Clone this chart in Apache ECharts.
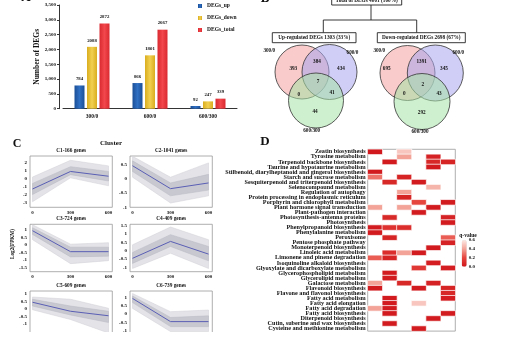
<!DOCTYPE html>
<html><head><meta charset="utf-8">
<script src="https://cdn.jsdelivr.net/npm/echarts@6/dist/echarts.min.js"></script>
<style>html,body{margin:0;padding:0;background:#fff}#c{width:512px;height:339px}</style>
</head><body><div id="c"></div>
<script>
// ---------- Panel A data ----------
const degCategories = ['300/0', '600/0', '600/300'];
const degUp = [784, 866, 92];
const degDown = [2088, 1801, 247];
const degTotal = [2872, 2667, 339];
const degSeriesNames = ['DEGs_up', 'DEGs_down', 'DEGs_total'];

// ---------- Panel B data ----------
const totalLabel = 'Total of DEGs 4001 (100%)';
const upLabel = 'Up-regulated DEGs 1303 (33%)';
const downLabel = 'Down-regulated DEGs 2698 (67%)';
const vennSetNames = ['300/0', '600/0', '600/300'];
// order: 300/0 only, 300/0∩600/0, 600/0 only, all three, 300/0∩600/300, 600/0∩600/300, 600/300 only
const vennUpCounts = [393, 384, 434, 7, 0, 41, 44];
const vennDownCounts = [695, 1391, 345, 2, 0, 43, 292];

// ---------- Panel C data ----------
const timePoints = [0, 300, 600];
const timeTickLabels = [0, 300, 600];
const clusterNames = ['C1-166 genes', 'C2-1041 genes', 'C3-724 genes', 'C4-409 genes', 'C5-609 genes', 'C6-739 genes'];
const clusterMean = [[-1.3, 0.9, 0.3], [0.45, -0.35, -0.15], [0.95, -0.45, -0.45], [-0.45, 0.55, -0.2], [0.45, -0.15, -0.45], [0.95, -0.45, -0.45]];
const clusterOuterLow = [[-2.9, 0.1, -0.9], [0.05, -0.85, -0.6], [0.35, -1.25, -1.05], [-1.05, -0.15, -1.05], [-0.05, -0.7, -1.6], [0.35, -1.05, -1.05]];
const clusterOuterHigh = [[0.2, 2.3, 1.6], [0.78, 0.05, 0.55], [1.35, 0.05, 0.15], [0.35, 1.4, 0.65], [0.8, 0.65, 0.05], [1.25, 0.15, 0.25]];
const clusterInnerLow = [[-2.0, 0.5, -0.3], [0.25, -0.6, -0.4], [0.7, -0.8, -0.75], [-0.75, 0.25, -0.6], [0.2, -0.4, -0.9], [0.7, -0.75, -0.75]];
const clusterInnerHigh = [[-0.6, 1.5, 0.9], [0.62, -0.15, 0.15], [1.15, -0.15, -0.15], [-0.1, 0.95, 0.25], [0.65, 0.2, -0.15], [1.1, -0.2, -0.1]];
const clusterYTicks = [[-3, -2, -1, 0, 1, 2], [-1, -0.5, 0, 0.5], [-1.5, -1, -0.5, 0, 0.5, 1], [-1, -0.5, 0, 0.5, 1, 1.5], [-1, -0.5, 0, 0.5, 1], [-1, -0.5, 0, 0.5, 1]];
const clusterYRange = [[-3.6, 2.84], [-1, 0.79], [-1.79, 1.38], [-1.24, 1.56], [-2, 1.2], [-1.5, 1.4]];

// ---------- Panel D data ----------
const pathways = [
  'Zeatin biosynthesis', 'Tyrosine metabolism', 'Terpenoid backbone biosynthesis', 'Taurine and hypotaurine metabolism',
  'Stilbenoid, diarylheptanoid and gingerol biosynthesis', 'Starch and sucrose metabolism', 'Sesquiterpenoid and triterpenoid biosynthesis',
  'Selenocompound metabolism', 'Regulation of autophagy', 'Protein processing in endoplasmic reticulum', 'Porphyrin and chlorophyll metabolism',
  'Plant hormone signal transduction', 'Plant-pathogen interaction', 'Photosynthesis-antenna proteins', 'Photosynthesis',
  'Phenylpropanoid biosynthesis', 'Phenylalanine metabolism', 'Peroxisome', 'Pentose phosphate pathway', 'Monoterpenoid biosynthesis',
  'Linoleic acid metabolism', 'Limonene and pinene degradation', 'Isoquinoline alkaloid biosynthesis', 'Glyoxylate and dicarboxylate metabolism',
  'Glycerophospholipid metabolism', 'Glycerolipid metabolism', 'Galactose metabolism', 'Flavonoid biosynthesis', 'Flavone and flavonol biosynthesis',
  'Fatty acid metabolism', 'Fatty acid elongation', 'Fatty acid degradation', 'Fatty acid biosynthesis', 'Diterpenoid biosynthesis',
  'Cutin, suberine and wax biosynthesis', 'Cysteine and methionine metabolism'
];
const heatColumns = ['c1', 'c2', 'c3', 'c4', 'c5', 'c6'];
// [column, row, q-value]
const heatCells = [
  [0,0,0.01],[2,0,0.5],
  [2,1,0.4],[4,1,0.05],
  [1,2,0.02],[4,2,0.08],[5,2,0.06],
  [4,3,0.02],
  [0,4,0.02],
  [0,5,0.3],[2,5,0.06],
  [1,6,0.08],[3,6,0.02],
  [4,7,0.45],
  [2,8,0.4],
  [2,9,0.06],
  [3,10,0.2],[5,10,0.02],
  [0,11,0.4],[2,11,0.4],[4,11,0.02],
  [3,12,0.02],
  [1,13,0.08],[5,13,0.05],
  [5,14,0.02],
  [0,15,0.02],[1,15,0.12],[2,15,0.1],
  [0,16,0.02],
  [1,17,0.06],[5,17,0.25],
  [5,18,0.05],
  [4,19,0.02],
  [1,20,0.1],[2,20,0.4],[3,20,0.02],
  [0,21,0.25],[1,21,0.06],
  [4,22,0.03],
  [3,23,0.15],[5,23,0.03],
  [1,24,0.02],
  [1,25,0.02],
  [0,26,0.4],[2,26,0.08],[4,26,0.05],
  [0,27,0.02],[3,27,0.02],[5,27,0.06],
  [5,28,0.08],
  [1,29,0.02],[5,29,0.03],
  [1,30,0.02],[3,30,0.5],
  [0,31,0.4],[1,31,0.02],
  [1,32,0.02],[5,32,0.02],
  [4,33,0.02],
  [1,34,0.02],
  [3,35,0.02]
];
const qTicks = [0, 0.2, 0.4, 0.6];

// ---------- build ----------
const chart = echarts.init(document.getElementById('c'), null, {renderer: 'canvas', width: 512, height: 339});
const F = '"Liberation Serif", "Times New Roman", serif';
const txt = (s, extra) => Object.assign({fontFamily: F, fontWeight: 'bold', fontSize: s, color: '#111'}, extra || {});

const grid = [], xAxis = [], yAxis = [], series = [], title = [], graphic = [];

// Panel A
grid.push({left: 63, top: 5, width: 174, height: 103.7});
xAxis.push({type: 'category', gridIndex: 0, data: degCategories,
  axisLine: {lineStyle: {color: '#000', width: 0.8}}, axisTick: {length: 2, lineStyle: {color: '#000', width: 0.8}},
  axisLabel: txt(5.5, {margin: 5})});
yAxis.push({type: 'value', gridIndex: 0, min: 0, max: 3500, interval: 500, offset: 4,
  axisLine: {show: true, lineStyle: {color: '#000', width: 0.8}}, axisTick: {show: true, length: 2, lineStyle: {color: '#000', width: 0.8}},
  splitLine: {show: false}, axisLabel: txt(5, {margin: 3}),
  name: 'Number of DEGs', nameLocation: 'middle', nameGap: 18, nameTextStyle: txt(7.5)});
const barColors = [
  new echarts.graphic.LinearGradient(0, 0, 1, 0, [{offset: 0, color: '#1b4f96'}, {offset: 0.5, color: '#2f6fc4'}, {offset: 1, color: '#1b4f96'}]),
  new echarts.graphic.LinearGradient(0, 0, 1, 0, [{offset: 0, color: '#d9ad1f'}, {offset: 0.5, color: '#f2d04f'}, {offset: 1, color: '#d9ad1f'}]),
  new echarts.graphic.LinearGradient(0, 0, 1, 0, [{offset: 0, color: '#d92a30'}, {offset: 0.5, color: '#f2474c'}, {offset: 1, color: '#d92a30'}])
];
const legendColors = ['#2560b0', '#e6c33a', '#e8383e'];
[degUp, degDown, degTotal].forEach((d, i) => {
  series.push({type: 'bar', name: degSeriesNames[i], xAxisIndex: 0, yAxisIndex: 0, data: d, barWidth: 10, barGap: '25%',
    color: legendColors[i], itemStyle: {color: barColors[i]},
    label: {show: true, position: 'top', distance: 4, ...txt(4.8)}});
});

// Panel C
const cBoxes = [[30, 156, 82.3, 51.3], [130, 156, 82.3, 51.3], [30, 224.3, 82.3, 47.4], [130, 224.3, 82.3, 47.4], [30, 291, 82.3, 48.6], [130, 291, 82.3, 48.2]];
function bandSeries(gi, lowArr, highArr, fill, stroke) {
  return {type: 'custom', xAxisIndex: gi, yAxisIndex: gi, silent: true, clip: true, data: [[timePoints[0], lowArr[0]]],
    renderItem: (params, api) => {
      const up = highArr.map((v, k) => api.coord([timePoints[k], v]));
      const lo = lowArr.map((v, k) => api.coord([timePoints[k], v])).reverse();
      return {type: 'polygon', shape: {points: up.concat(lo)}, style: {fill: fill, stroke: stroke, lineWidth: 0.5}};
    }};
}
clusterNames.forEach((nm, i) => {
  const gi = grid.length;
  const b = cBoxes[i];
  grid.push({left: b[0], top: b[1], width: b[2], height: b[3], show: true, borderColor: '#9a9a9a', borderWidth: 0.8, backgroundColor: '#fff'});
  xAxis.push({type: 'value', gridIndex: gi, min: -20, max: 630,
    axisLine: {show: false}, axisTick: {show: false}, splitLine: {show: false},
    axisLabel: txt(5, {margin: 3, customValues: timeTickLabels, show: i < 4})});
  yAxis.push({type: 'value', gridIndex: gi, min: clusterYRange[i][0], max: clusterYRange[i][1],
    axisLine: {show: false}, axisTick: {show: false}, splitLine: {show: false},
    axisLabel: txt(5, {margin: 3, customValues: clusterYTicks[i]})});
  series.push(bandSeries(gi, clusterOuterLow[i], clusterOuterHigh[i], '#e3e3e8', '#d0d0d7'));
  series.push(bandSeries(gi, clusterInnerLow[i], clusterInnerHigh[i], '#c8c8d1', '#b8b8c3'));
  series.push({type: 'line', xAxisIndex: gi, yAxisIndex: gi, symbol: 'none', silent: true,
    lineStyle: {color: '#5a5fb4', width: 1}, data: clusterMean[i].map((v, k) => [timePoints[k], v]), z: 5});
  title.push({text: nm, left: b[0] + b[2] / 2, top: b[1] - 8, textAlign: 'center', padding: 0,
    textStyle: txt(5.3)});
});

// Panel D heatmap
const hgi = grid.length;
grid.push({left: 367.7, top: 149.3, width: 87.6, height: 181.8, show: true, borderColor: '#9a9a9a', borderWidth: 0.8});
xAxis.push({type: 'category', gridIndex: hgi, data: heatColumns, axisLabel: {show: false}, axisTick: {show: false}, axisLine: {show: false}, splitLine: {show: false}});
yAxis.push({type: 'category', gridIndex: hgi, data: pathways, inverse: true, axisTick: {show: false}, axisLine: {show: false},
  axisLabel: txt(6.2, {margin: 2, interval: 0})});
const heatSeriesIndex = series.length;
series.push({type: 'heatmap', xAxisIndex: hgi, yAxisIndex: hgi, data: heatCells,
  itemStyle: {borderColor: '#fff', borderWidth: 0.7}});

// q-value legend axis
const lgi = grid.length;
grid.push({left: 461.7, top: 240, width: 5, height: 26.7});
xAxis.push({type: 'value', gridIndex: lgi, show: false});
yAxis.push({type: 'value', gridIndex: lgi, position: 'right', min: 0, max: 0.6, axisLine: {show: false}, axisTick: {show: false}, splitLine: {show: false},
  axisLabel: txt(5, {margin: 2, customValues: qTicks, formatter: v => v.toFixed(1)})});
series.push({type: 'line', xAxisIndex: lgi, yAxisIndex: lgi, data: [], silent: true});

// Panel B graphics
const gtext = (x, y, t, s, extra) => ({type: 'text', x: x, y: y, style: Object.assign({text: t, fontFamily: F, fontWeight: 'bold', fontSize: s, fill: '#111', align: 'center', verticalAlign: 'middle'}, extra || {})});
const gline = (x1, y1, x2, y2) => ({type: 'line', shape: {x1, y1, x2, y2}, style: {stroke: '#222', lineWidth: 0.9}});
graphic.push({type: 'rect', shape: {x: 331.7, y: -6, width: 70, height: 11}, style: {fill: '#fff', stroke: '#222', lineWidth: 0.9}});
graphic.push(gtext(366.7, 0.5, totalLabel, 5.3));
graphic.push(gline(371, 5, 371, 20));
graphic.push(gline(323.3, 20, 416.7, 20));
graphic.push(gline(323.3, 20, 323.3, 32.7));
graphic.push(gline(416.7, 20, 416.7, 32.7));
graphic.push({type: 'rect', shape: {x: 272.3, y: 32.7, width: 83.7, height: 10}, style: {fill: '#fff', stroke: '#222', lineWidth: 0.9}});
graphic.push(gtext(314.2, 37.9, upLabel, 5.3));
graphic.push({type: 'rect', shape: {x: 377.3, y: 32.7, width: 88, height: 10}, style: {fill: '#fff', stroke: '#222', lineWidth: 0.9}});
graphic.push(gtext(421.3, 37.9, downLabel, 5.3));

const vennFills = ['rgba(244,160,160,0.55)', 'rgba(170,165,238,0.55)', 'rgba(165,228,165,0.55)'];
const vennLayouts = [
  {circles: [[302, 72, 27], [329.5, 72, 27.5], [316, 100.5, 27.5]],
   names: [[269.3, 51], [352.5, 52.7], [311.7, 131]],
   nums: [[293.3, 68.3], [317, 61.7], [341, 68.7], [318, 82], [298.7, 94.3], [332, 92.7], [315, 111.7]], counts: vennUpCounts},
  {circles: [[407.5, 73, 27.5], [435.3, 73, 28], [422, 101.5, 28]],
   names: [[379.3, 51], [458.3, 52.7], [420, 132]],
   nums: [[386.7, 68.3], [421.7, 61.7], [444, 68.3], [422.7, 84.7], [404.3, 93.3], [439, 93.3], [421.7, 113]], counts: vennDownCounts}
];
vennLayouts.forEach(L => {
  L.circles.forEach((c, k) => graphic.push({type: 'circle', shape: {cx: c[0], cy: c[1], r: c[2]}, style: {fill: vennFills[k], stroke: '#333', lineWidth: 0.8}}));
  L.names.forEach((p, k) => graphic.push(gtext(p[0], p[1], vennSetNames[k], 5.2)));
  L.nums.forEach((p, k) => graphic.push(gtext(p[0], p[1], String(L.counts[k]), 5.2)));
});

// Panel letters and misc text
graphic.push(gtext(26, -2, 'A', 13));
graphic.push(gtext(265, -1, 'B', 13));
graphic.push(gtext(17, 144, 'C', 12));
graphic.push(gtext(265, 141.5, 'D', 13));
graphic.push(gtext(111, 143.5, 'Cluster', 7));
graphic.push(gtext(468, 236, 'q-value', 5.5));
const yl = gtext(13, 244, 'Log2(FPKM)', 5.2);
yl.rotation = Math.PI / 2;
graphic.push(yl);
// white bottom band (the reference figure is cropped here)
graphic.push({type: 'rect', shape: {x: 0, y: 332, width: 512, height: 8}, style: {fill: '#fff'}, z: 100});

chart.setOption({
  animation: false,
  backgroundColor: '#fff',
  grid, xAxis, yAxis, series, title,
  legend: {data: degSeriesNames, orient: 'vertical', left: 198, top: 3, itemWidth: 4, itemHeight: 4, itemGap: 6, padding: 0,
    icon: 'rect', textStyle: txt(5.5)},
  visualMap: {type: 'continuous', min: 0, max: 0.6, seriesIndex: heatSeriesIndex, orient: 'vertical', left: 461.7, top: 240,
    itemWidth: 5, itemHeight: 26.7, calculable: false, padding: 0,
    inRange: {color: ['#d0161b', '#e5453d', '#f3a398', '#fde9e5']}},
  graphic: {elements: graphic}
});
</script></body></html>
